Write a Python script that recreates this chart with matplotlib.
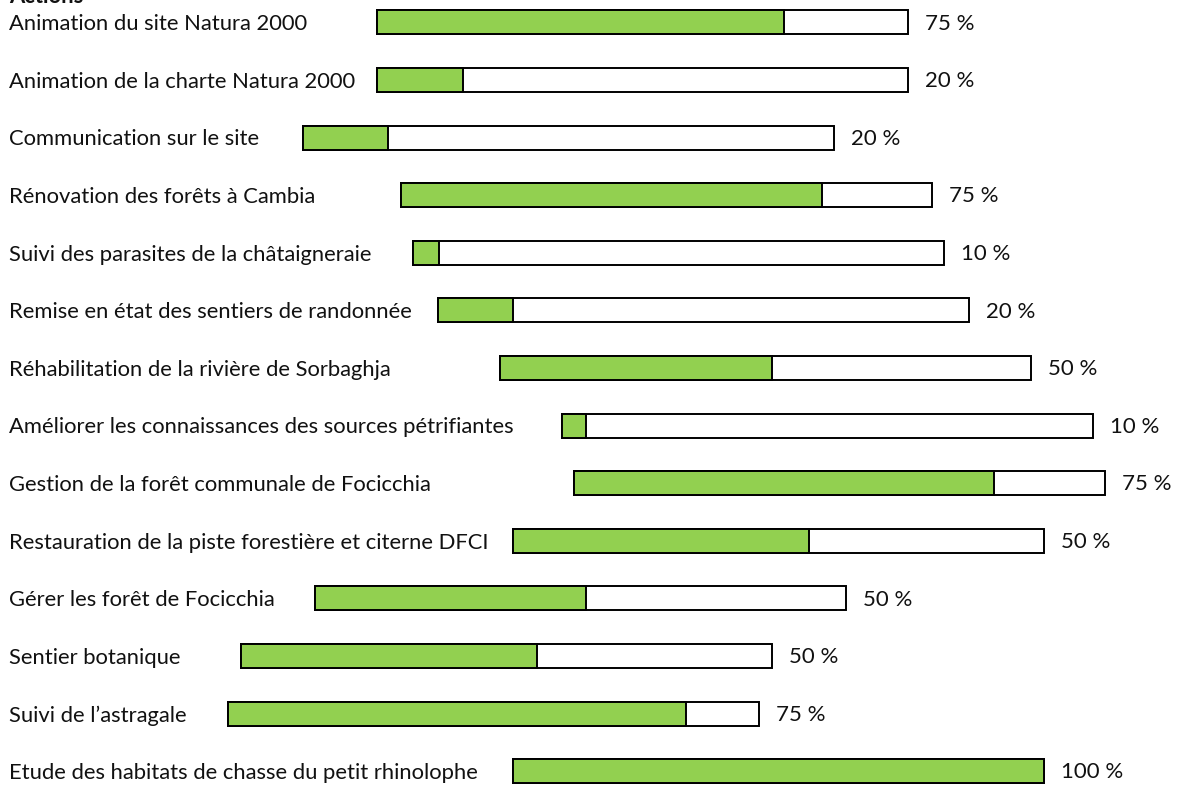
import matplotlib
matplotlib.use("Agg")
import matplotlib.pyplot as plt

# Actions, each bar drawn from its own start with a share of progress filled in green
actions = [
    "Animation du site Natura 2000",
    "Animation de la charte Natura 2000",
    "Communication sur le site",
    "Rénovation des forêts à Cambia",
    "Suivi des parasites de la châtaigneraie",
    "Remise en état des sentiers de randonnée",
    "Réhabilitation de la rivière de Sorbaghja",
    "Améliorer les connaissances des sources pétrifiantes",
    "Gestion de la forêt communale de Focicchia",
    "Restauration de la piste forestière et citerne DFCI",
    "Gérer les forêt de Focicchia",
    "Sentier botanique",
    "Suivi de l\u2019astragale",
    "Etude des habitats de chasse du petit rhinolophe",
]
bar_start = [71.0, 71.0, 57.1, 75.5, 77.8, 82.5, 94.2, 105.8, 108.1, 96.6, 59.3, 45.4, 42.9, 96.6]
fill_share = [76.6, 16.2, 16.0, 79.3, 4.9, 14.1, 51.2, 4.5, 79.1, 55.7, 51.1, 55.7, 86.3, 100.0]
pct_labels = [75, 20, 20, 75, 10, 20, 50, 10, 75, 50, 50, 50, 75, 100]
BAR_LEN = 100

GREEN = "#92D050"
FONT = "Lato"

fig = plt.figure(figsize=(11.81, 7.92), dpi=100)
ax = fig.add_axes([0, 0, 1, 1])
ax.set_xlim(0, 1181 / 5.31)
ax.set_ylim(13.36, -0.39)
ax.axis("off")

ys = list(range(len(actions)))
h = 0.417

# outline (white) then progress (green)
ax.barh(ys, [BAR_LEN] * len(ys), left=bar_start, height=h,
        color="white", edgecolor="black", linewidth=1.4)
ax.barh(ys, fill_share, left=bar_start, height=h,
        color=GREEN, edgecolor="black", linewidth=1.4)

for y, name, s, p in zip(ys, actions, bar_start, pct_labels):
    ax.text(1.7, y + 0.03, name, ha="left", va="center",
            fontsize=15.8, family=FONT, color="#111111")
    ax.text(s + BAR_LEN + 3.2, y + 0.02, f"{p} %", ha="left", va="center",
            fontsize=16, family=FONT, color="#111111")

# header, partly cut by the top edge as in the original
ax.text(1.7, -0.27, "Actions", ha="left", va="bottom",
        fontsize=15.8, family=FONT, fontweight="bold", color="#111111")

fig.savefig("out.png", dpi=100)
